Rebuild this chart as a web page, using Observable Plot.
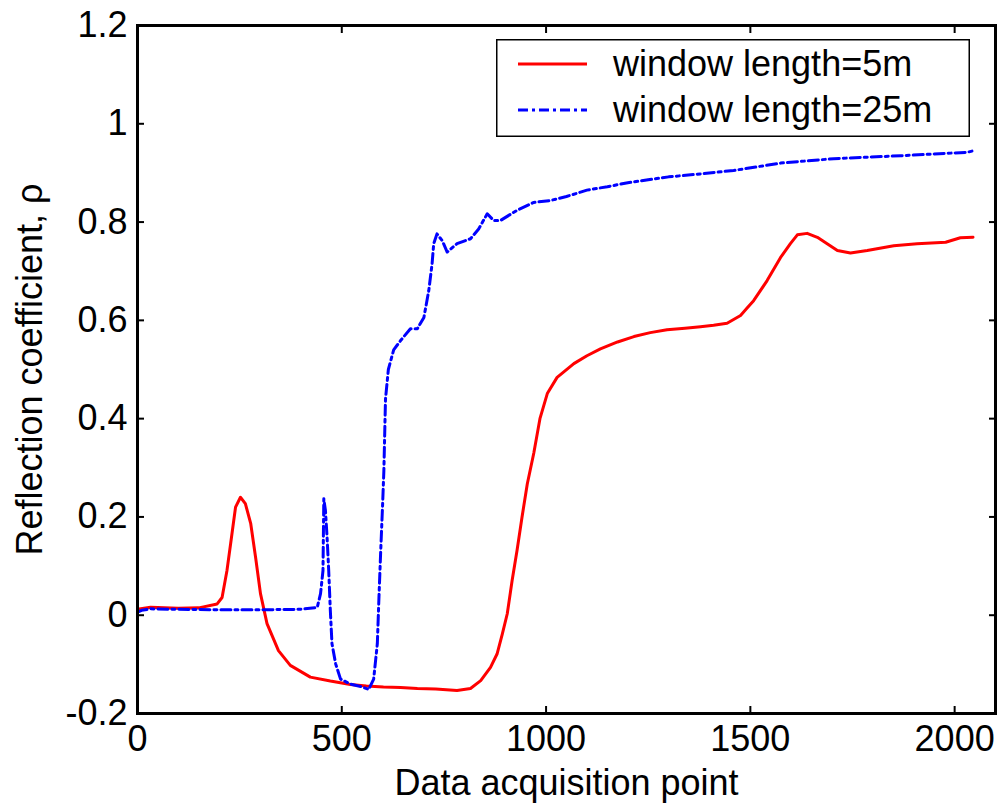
<!DOCTYPE html>
<html><head><meta charset="utf-8">
<script src="https://cdn.jsdelivr.net/npm/d3@7"></script>
<script src="https://cdn.jsdelivr.net/npm/@observablehq/plot@0.6"></script>
<style>
body{margin:0;background:#fff;}
#wrap{position:relative;width:1000px;height:807px;font-family:'Liberation Sans',Arial,sans-serif;}
#legend{position:absolute;left:496px;top:39px;}
</style></head><body><div id="wrap"></div>
<script>
const xTicks = [0, 500, 1000, 1500, 2000];
const yTicks = [-0.2, 0, 0.2, 0.4, 0.6, 0.8, 1, 1.2];
const seriesNames = ["window length=5m", "window length=25m"];
const seriesColors = ["#ff0000", "#0000ff"];

const redX = [0, 32, 100, 150, 195, 207, 219, 228, 240, 252, 264, 277, 289, 301, 317, 345, 374, 423, 472, 521, 560, 602, 644, 685, 730, 782, 815, 840, 864, 880, 893, 905, 917, 929, 941, 954, 970, 985, 1003, 1027, 1068, 1100, 1133, 1175, 1215, 1255, 1296, 1340, 1378, 1410, 1443, 1476, 1492, 1508, 1541, 1574, 1598, 1615, 1639, 1664, 1688, 1713, 1745, 1786, 1851, 1908, 1978, 2014, 2045];
const redY = [0.012, 0.016, 0.014, 0.015, 0.023, 0.036, 0.091, 0.146, 0.22, 0.24, 0.227, 0.187, 0.118, 0.044, -0.017, -0.072, -0.102, -0.126, -0.134, -0.141, -0.144, -0.146, -0.147, -0.149, -0.150, -0.153, -0.149, -0.133, -0.106, -0.079, -0.038, 0.003, 0.071, 0.132, 0.199, 0.267, 0.33, 0.40, 0.451, 0.484, 0.512, 0.528, 0.542, 0.556, 0.567, 0.575, 0.581, 0.584, 0.587, 0.590, 0.594, 0.610, 0.625, 0.640, 0.681, 0.728, 0.756, 0.774, 0.777, 0.769, 0.756, 0.742, 0.737, 0.742, 0.752, 0.756, 0.759, 0.768, 0.769];

const blueX = [0, 10, 32, 100, 200, 300, 400, 440, 448, 454, 456, 460, 464, 468, 472, 476, 485, 497, 521, 546, 566, 578, 587, 591, 595, 600, 603, 607, 614, 627, 644, 668, 685, 701, 713, 721, 725, 733, 746, 758, 782, 815, 835, 856, 872, 888, 929, 970, 1011, 1050, 1100, 1150, 1200, 1250, 1300, 1378, 1459, 1574, 1704, 1868, 2031, 2045];
const blueY = [0.006, 0.010, 0.013, 0.012, 0.011, 0.011, 0.012, 0.016, 0.044, 0.091, 0.237, 0.213, 0.159, 0.091, 0.009, -0.058, -0.099, -0.130, -0.140, -0.145, -0.151, -0.130, -0.058, 0.037, 0.125, 0.227, 0.294, 0.44, 0.50, 0.54, 0.559, 0.583, 0.583, 0.606, 0.661, 0.715, 0.756, 0.776, 0.762, 0.739, 0.756, 0.766, 0.786, 0.817, 0.803, 0.803, 0.824, 0.840, 0.844, 0.852, 0.865, 0.872, 0.880, 0.886, 0.892, 0.898, 0.905, 0.920, 0.929, 0.935, 0.942, 0.945];

const red = redX.map((x, i) => ({x, y: redY[i]}));
const blue = blueX.map((x, i) => ({x, y: blueY[i]}));
const fmtY = d => String(+d.toFixed(1));

const chart = Plot.plot({
  width: 1000, height: 807,
  marginLeft: 137, marginRight: 5, marginTop: 25, marginBottom: 94,
  x: {domain: [0, 2100]},
  y: {domain: [-0.2, 1.2]},
  style: {fontFamily: "'Liberation Sans', Arial, sans-serif", fontSize: "36px", color: "black", background: "white", overflow: "visible"},
  marks: [
    Plot.line(red, {x: "x", y: "y", stroke: seriesColors[0], strokeWidth: 3, strokeLinejoin: "round"}),
    Plot.line(blue, {x: "x", y: "y", stroke: seriesColors[1], strokeWidth: 3, strokeDasharray: "10,4,3,4"}),
    Plot.axisX({anchor: "bottom", ticks: xTicks, tickSize: 0, tickPadding: 12, tickFormat: d => String(d), label: null}),
    Plot.axisX({anchor: "bottom", ticks: xTicks, tickSize: -7, tickFormat: () => "", label: null, strokeWidth: 2}),
    Plot.axisX({anchor: "top", ticks: xTicks, tickSize: -7, tickFormat: () => "", label: null, strokeWidth: 2}),
    Plot.axisY({anchor: "left", ticks: yTicks, tickSize: 0, tickPadding: 10, tickFormat: fmtY, label: null}),
    Plot.axisY({anchor: "left", ticks: yTicks, tickSize: -7, tickFormat: () => "", label: null, strokeWidth: 2}),
    Plot.axisY({anchor: "right", ticks: yTicks, tickSize: -7, tickFormat: () => "", label: null, strokeWidth: 2}),
    Plot.frame({stroke: "black", strokeWidth: 3}),
    Plot.text(["Data acquisition point"], {frameAnchor: "bottom", dy: 70, textAnchor: "middle", lineAnchor: "middle", fontSize: 36}),
    Plot.text(["Reflection coefficient, ρ"], {frameAnchor: "left", dx: -107, rotate: -90, textAnchor: "middle", lineAnchor: "middle", fontSize: 36})
  ]
});
document.getElementById("wrap").appendChild(chart);

// legend
const ns = "http://www.w3.org/2000/svg";
const lg = document.createElementNS(ns, "svg");
lg.setAttribute("id", "legend");
lg.setAttribute("width", 474); lg.setAttribute("height", 98);
lg.innerHTML = `<rect x="0.75" y="0.75" width="472.5" height="96.5" fill="white" stroke="black" stroke-width="1.5"/>`;
seriesNames.forEach((name, i) => {
  const y = 25 + i * 46;
  const l = document.createElementNS(ns, "line");
  l.setAttribute("x1", 22); l.setAttribute("x2", 91); l.setAttribute("y1", y); l.setAttribute("y2", y);
  l.setAttribute("stroke", seriesColors[i]); l.setAttribute("stroke-width", 3);
  if (i === 1) l.setAttribute("stroke-dasharray", "10,4,3,4");
  lg.appendChild(l);
  const t = document.createElementNS(ns, "text");
  t.setAttribute("x", 117); t.setAttribute("y", y + 12);
  t.setAttribute("font-size", 36); t.setAttribute("font-family", "'Liberation Sans', Arial, sans-serif");
  t.textContent = name;
  lg.appendChild(t);
});
document.getElementById("wrap").appendChild(lg);
</script>
</body></html>
